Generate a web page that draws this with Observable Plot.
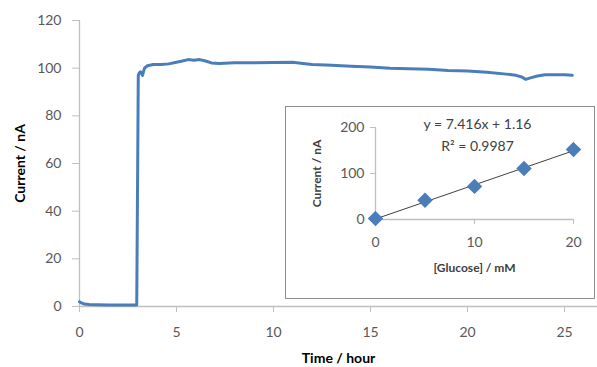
<!DOCTYPE html>
<html><head><meta charset="utf-8">
<script src="https://cdn.jsdelivr.net/npm/d3@7"></script>
<script src="https://cdn.jsdelivr.net/npm/@observablehq/plot@0.6"></script>
<style>
body{margin:0;background:#fff;font-family:Lato,"Open Sans",sans-serif;}
#wrap{position:relative;width:597px;height:367px;}
#inset{position:absolute;left:285px;top:106px;width:308px;height:191px;border:1px solid #8c8c8c;background:#fff;}
</style></head><body>
<div id="wrap"><div id="main"></div><div id="inset"></div></div>
<script>
// Main trace: time (hours) vs current (nA)
const hours   = [0, 0.1, 0.25, 0.5, 1, 1.5, 2, 2.5, 2.95, 3.0, 3.03, 3.08, 3.15, 3.25, 3.35, 3.5, 3.8, 4.2, 4.6, 5.0, 5.3, 5.6, 5.9, 6.2, 6.5, 6.8, 7.2, 8, 9, 10, 11, 11.5, 12, 13, 14, 15, 16, 17, 18, 19, 20, 21, 22, 22.5, 22.8, 23.0, 23.2, 23.6, 24.0, 24.5, 25.0, 25.4];
const current = [2, 1.5, 1.0, 0.8, 0.7, 0.6, 0.6, 0.6, 0.6, 60, 97, 98, 98.5, 97, 100, 101, 101.5, 101.5, 101.8, 102.5, 103, 103.6, 103.3, 103.6, 103, 102.2, 102, 102.3, 102.3, 102.4, 102.5, 102, 101.5, 101.2, 100.8, 100.5, 100, 99.8, 99.5, 99, 98.8, 98.3, 97.5, 97, 96.3, 95.3, 95.8, 96.7, 97.2, 97.2, 97.2, 97];
const mainXTicks = [0, 5, 10, 15, 20, 25];
const mainYTicks = [0, 20, 40, 60, 80, 100, 120];

// Inset calibration: glucose (mM) vs current (nA)
const glucose = [0, 5, 10, 15, 20];
const calCurrent = [2, 42, 72, 111, 152];
const slope = 7.416, intercept = 1.16;
const eqText = "y = 7.416x + 1.16";
const r2Text = "R² = 0.9987";
const insetXTicks = [0, 10, 20];
const insetYTicks = [0, 100, 200];

const trace = hours.map((h, i) => ({h, c: current[i]}));
const cal = glucose.map((g, i) => ({g, c: calCurrent[i]}));
const trend = [0, 20].map(g => ({g, c: slope * g + intercept}));

const axisGrey = "#bfbfbf", textGrey = "#595959", blue = "#4a7ebb";

const main = Plot.plot({
  width: 597, height: 367,
  marginLeft: 79, marginRight: 0, marginTop: 20, marginBottom: 61,
  style: {fontFamily: "Lato, 'Open Sans', sans-serif", fontSize: "14px", color: textGrey, background: "transparent"},
  x: {domain: [0, 26.7], ticks: mainXTicks},
  y: {domain: [0, 120], ticks: mainYTicks},
  marks: [
    Plot.ruleX([0], {stroke: axisGrey, strokeWidth: 1.3}),
    Plot.ruleY([0], {stroke: axisGrey, strokeWidth: 1.3}),
    Plot.axisX({ticks: mainXTicks, tickSize: 6, tickPadding: 15, stroke: axisGrey, fill: textGrey, label: null, tickFormat: d => d}),
    Plot.axisY({ticks: mainYTicks, tickSize: 7, tickPadding: 11, stroke: axisGrey, fill: textGrey, label: null}),
    Plot.text(["Time / hour"], {frameAnchor: "bottom", dy: 56, fontWeight: "bold", fontSize: 14, fill: "#000"}),
    Plot.text(["Current / nA"], {frameAnchor: "left", textAnchor: "middle", dx: -59, rotate: -90, fontWeight: "bold", fontSize: 14, fill: "#000"}),
    Plot.line(trace, {x: "h", y: "c", stroke: blue, strokeWidth: 3, curve: "linear", strokeLinejoin: "round"})
  ]
});
document.getElementById("main").appendChild(main);

const inset = Plot.plot({
  width: 308, height: 191,
  marginLeft: 89, marginRight: 21, marginTop: 20, marginBottom: 79,
  style: {fontFamily: "Lato, 'Open Sans', sans-serif", fontSize: "14px", color: textGrey, background: "transparent"},
  x: {domain: [0, 20], ticks: insetXTicks},
  y: {domain: [0, 200], ticks: insetYTicks},
  marks: [
    Plot.ruleX([0], {stroke: axisGrey, strokeWidth: 1.3}),
    Plot.ruleY([0], {stroke: axisGrey, strokeWidth: 1.3}),
    Plot.axisX({ticks: insetXTicks, tickSize: 5, tickPadding: 13, stroke: axisGrey, fill: textGrey, label: null}),
    Plot.axisY({ticks: insetYTicks, tickSize: 5, tickPadding: 6, stroke: axisGrey, fill: textGrey, label: null}),
    Plot.line(trend, {x: "g", y: "c", stroke: "#404040", strokeWidth: 1}),
    Plot.dot(cal, {x: "g", y: "c", symbol: "diamond2", r: 6, fill: blue, stroke: blue}),
    Plot.text([eqText], {frameAnchor: "top", dx: 3, dy: -8, fontSize: 14, fill: "#404040"}),
    Plot.text([r2Text], {frameAnchor: "top", dx: 3, dy: 14, fontSize: 14, fill: "#404040"}),
    Plot.text(["[Glucose] / mM"], {frameAnchor: "bottom", dy: 52, fontSize: 12, fontWeight: "bold", fill: "#404040"}),
    Plot.text(["Current / nA"], {frameAnchor: "left", textAnchor: "middle", dx: -58, rotate: -90, fontSize: 12, fontWeight: "bold", fill: "#404040"})
  ]
});
document.getElementById("inset").appendChild(inset);
</script></body></html>
